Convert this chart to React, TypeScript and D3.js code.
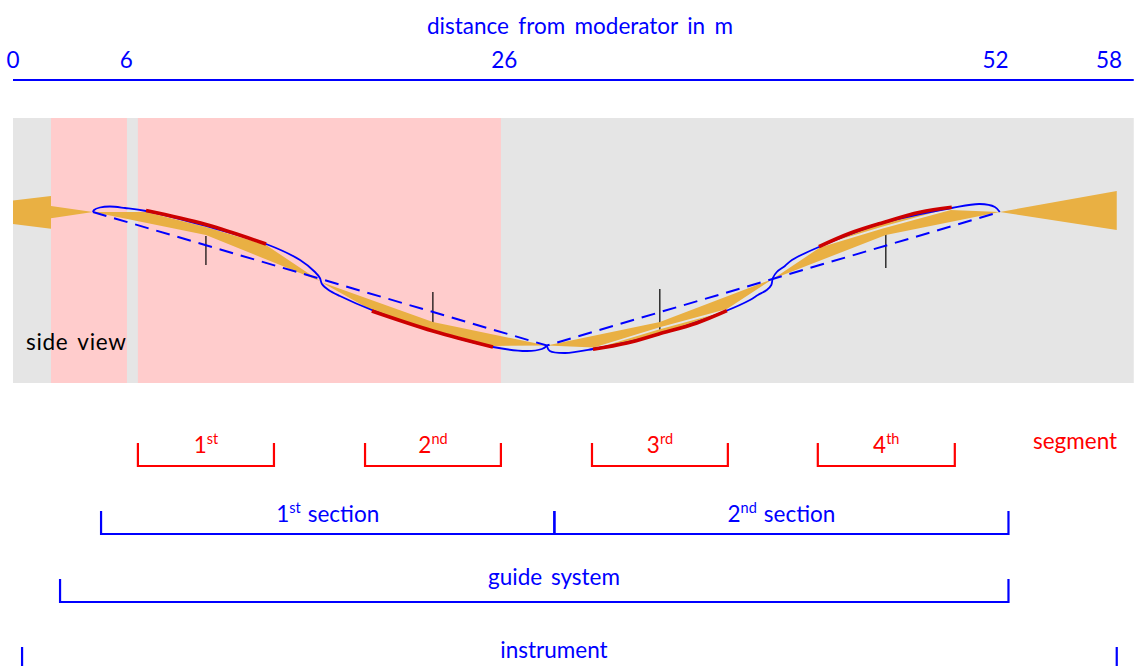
import React from "react";
import * as d3 from "d3";

type P = [number, number];

// x in metres from moderator, second value = height above panel floor
const axisTicks = [0, 6, 26, 52, 58];
const panelExtent: P = [0, 59.31];
const pinkBands: P[] = [[2.01, 6.03], [6.61, 25.82]];

const leftCone: P[] = [[0, 182.5], [2.01, 187], [2.01, 177], [4.23, 171], [2.01, 164.7], [2.01, 154.3], [0, 159]];
const rightCone: P[] = [[52.22, 171], [58.41, 192], [58.41, 153]];
const section1Guide: P[] = [[4.23, 171], [7.04, 171], [10.21, 156], [13.39, 138], [16.24, 102], [10.21, 148]];
const section2Guide: P[] = [[16.3, 101], [22.22, 61], [28.25, 37.5], [25.4, 37], [22.22, 53], [19.05, 72]];
const section3Guide: P[] = [[28.25, 37.5], [34.23, 61], [40.21, 104], [37.78, 74], [34.18, 55.5], [30.74, 35.5]];
const section3Sliver: P[] = [[30.74, 34], [34.18, 53.5], [37.78, 72], [36.19, 60], [34.18, 49], [32.49, 40]];
const section4Guide: P[] = [[40.21, 104], [42.7, 135.5], [46.03, 154.5], [49.63, 173], [52.22, 171], [46.19, 148]];
const section4Sliver: P[] = [[42.7, 137.5], [46.03, 156.5], [49.68, 175.5], [47.99, 170.7], [46.03, 160.3], [44.29, 149.7]];
const guideShapes = [leftCone, rightCone, section1Guide, section2Guide, section3Guide, section3Sliver, section4Guide, section4Sliver];

const chords: P[] = [[4.23, 171], [28.25, 37.5], [52.22, 171]];
const outlineA: P[] = [[4.23, 171], [4.29, 173], [4.6, 175.5], [5.13, 176.5], [5.93, 175], [7.04, 172], [10.21, 157], [13.39, 139], [15.19, 123], [15.98, 111], [16.24, 105], [16.35, 99], [16.7, 93], [17.3, 87], [18.99, 73], [22.22, 52], [25.4, 36], [27.2, 32], [27.99, 34], [28.25, 37]];
const outlineB: P[] = [[28.25, 37], [28.41, 32], [29.21, 30], [30.69, 34], [34.23, 49], [37.72, 72], [39, 83], [39.42, 88], [39.89, 93], [40.13, 98], [40.21, 105], [40.42, 111], [40.85, 117], [41.22, 123], [42.65, 136], [46.03, 160], [49.68, 175], [51.16, 179], [51.96, 176], [52.22, 171]];

const mirror1: P[] = [[7.04, 172.5], [10.21, 158.5], [13.39, 139]];
const mirror2: P[] = [[18.99, 72], [22.22, 52], [25.4, 36]];
const mirror3: P[] = [[30.69, 33.7], [32.49, 40], [34.18, 49], [36.19, 60], [37.78, 72.3]];
const mirror4: P[] = [[42.65, 136.3], [44.29, 149.7], [46.03, 160.3], [47.99, 170.7], [49.68, 175.7]];
const mirrors = [mirror1, mirror2, mirror3, mirror4];

const markerX = [10.21, 22.22, 34.23, 46.19];
const markerSpans: P[] = [[118, 147], [54, 91], [53, 94], [115, 155]];

const segmentRanges: P[] = [[6.61, 13.81], [18.63, 25.82], [30.64, 37.83], [42.59, 49.84]];
const segmentBase = ["1", "2", "3", "4"];
const segmentSup = ["st", "nd", "rd", "th"];
const sectionEdges = [4.66, 28.65, 52.68];
const sectionBase = ["1", "2"];
const sectionSup = ["st", "nd"];
const guideRange: P = [2.49, 52.68];
const instrumentRange: P = [0.48, 58.41];

const W = 1134;
const H = 666;
const x = d3.scaleLinear().domain([0, 58]).range([13, 1109]);
const y = d3.scaleLinear().domain([0, 265]).range([383, 118]);
const line = d3.line<P>().x((d) => x(d[0])).y((d) => y(d[1]));
const smooth = d3.line<P>().x((d) => x(d[0])).y((d) => y(d[1])).curve(d3.curveCatmullRom.alpha(0.5));

const BLUE = "#0000ff";
const RED = "#ff0000";
const ORANGE = "#e9b043";
const FONT = "Lato, 'Open Sans', sans-serif";
const FS = 22.5;

function Bracket({ a, b, top, bottom, color }: { a: number; b: number; top: number; bottom: number; color: string }) {
  return <path d={`M${x(a)},${top}V${bottom}H${x(b)}V${top}`} fill="none" stroke={color} strokeWidth={2.2} />;
}

function Ordinal({ cx, base, sup, rest, yPos, color }: { cx: number; base: string; sup: string; rest?: string; yPos: number; color: string }) {
  return (
    <text x={cx} y={yPos} textAnchor="middle" fill={color} fontSize={FS} fontFamily={FONT}>
      {base}
      <tspan dy={-9} fontSize={14.5}>{sup}</tspan>
      {rest ? <tspan dy={9} dx={7}>{rest}</tspan> : null}
    </text>
  );
}

export default function App() {
  return (
    <svg width={W} height={H} viewBox={`0 0 ${W} ${H}`} style={{ position: "absolute", left: 0, top: 0, display: "block" }}>
      <rect width={W} height={H} fill="#fff" />
      <text x={580} y={34} textAnchor="middle" fill={BLUE} fontSize={FS} fontFamily={FONT} wordSpacing={3.6}>distance from moderator in m</text>
      {axisTicks.map((t) => (
        <text key={t} x={x(t) - (t === 26 ? 0 : 0)} y={68} textAnchor="middle" fill={BLUE} fontSize={FS} fontFamily={FONT}>{t}</text>
      ))}
      <line x1={x(panelExtent[0])} x2={x(panelExtent[1])} y1={80} y2={80} stroke={BLUE} strokeWidth={2.2} />

      <rect x={x(panelExtent[0])} y={y(265)} width={x(panelExtent[1]) - x(panelExtent[0])} height={y(0) - y(265)} fill="#e5e5e5" />
      {pinkBands.map((b, i) => (
        <rect key={i} x={x(b[0])} y={y(265)} width={x(b[1]) - x(b[0])} height={y(0) - y(265)} fill="#ffcccc" />
      ))}
      {markerX.map((m, i) => (
        <line key={i} x1={x(m)} x2={x(m)} y1={y(markerSpans[i][1])} y2={y(markerSpans[i][0])} stroke="#000" strokeWidth={1.2} />
      ))}
      {guideShapes.map((s, i) => (
        <path key={i} d={line(s) + "Z"} fill={ORANGE} />
      ))}
      <path d={line(chords) ?? ""} fill="none" stroke={BLUE} strokeWidth={2} strokeDasharray="14 8" />
      <path d={smooth(outlineA) ?? ""} fill="none" stroke={BLUE} strokeWidth={1.8} />
      <path d={smooth(outlineB) ?? ""} fill="none" stroke={BLUE} strokeWidth={1.8} />
      {mirrors.map((m, i) => (
        <path key={i} d={smooth(m) ?? ""} fill="none" stroke="#cc0000" strokeWidth={3.6} />
      ))}
      <text x={26} y={350} fill="#000" fontSize={FS} fontFamily={FONT} wordSpacing={3} letterSpacing={0.7}>side view</text>

      {segmentRanges.map((r, i) => (
        <g key={i}>
          <Bracket a={r[0]} b={r[1]} top={443} bottom={466} color={RED} />
          <Ordinal cx={x((r[0] + r[1]) / 2)} base={segmentBase[i]} sup={segmentSup[i]} yPos={453} color={RED} />
        </g>
      ))}
      <text x={1033} y={449} fill={RED} fontSize={FS} fontFamily={FONT}>segment</text>

      {sectionBase.map((b, i) => (
        <g key={i}>
          <Bracket a={sectionEdges[i]} b={sectionEdges[i + 1]} top={511} bottom={534} color={BLUE} />
          <Ordinal cx={x((sectionEdges[i] + sectionEdges[i + 1]) / 2)} base={b} sup={sectionSup[i]} rest="section" yPos={522} color={BLUE} />
        </g>
      ))}
      <Bracket a={guideRange[0]} b={guideRange[1]} top={579} bottom={602} color={BLUE} />
      <text x={554} y={585} textAnchor="middle" fill={BLUE} fontSize={FS} fontFamily={FONT} wordSpacing={3}>guide system</text>
      <Bracket a={instrumentRange[0]} b={instrumentRange[1]} top={647} bottom={670} color={BLUE} />
      <text x={554} y={658} textAnchor="middle" fill={BLUE} fontSize={FS} fontFamily={FONT}>instrument</text>
    </svg>
  );
}
